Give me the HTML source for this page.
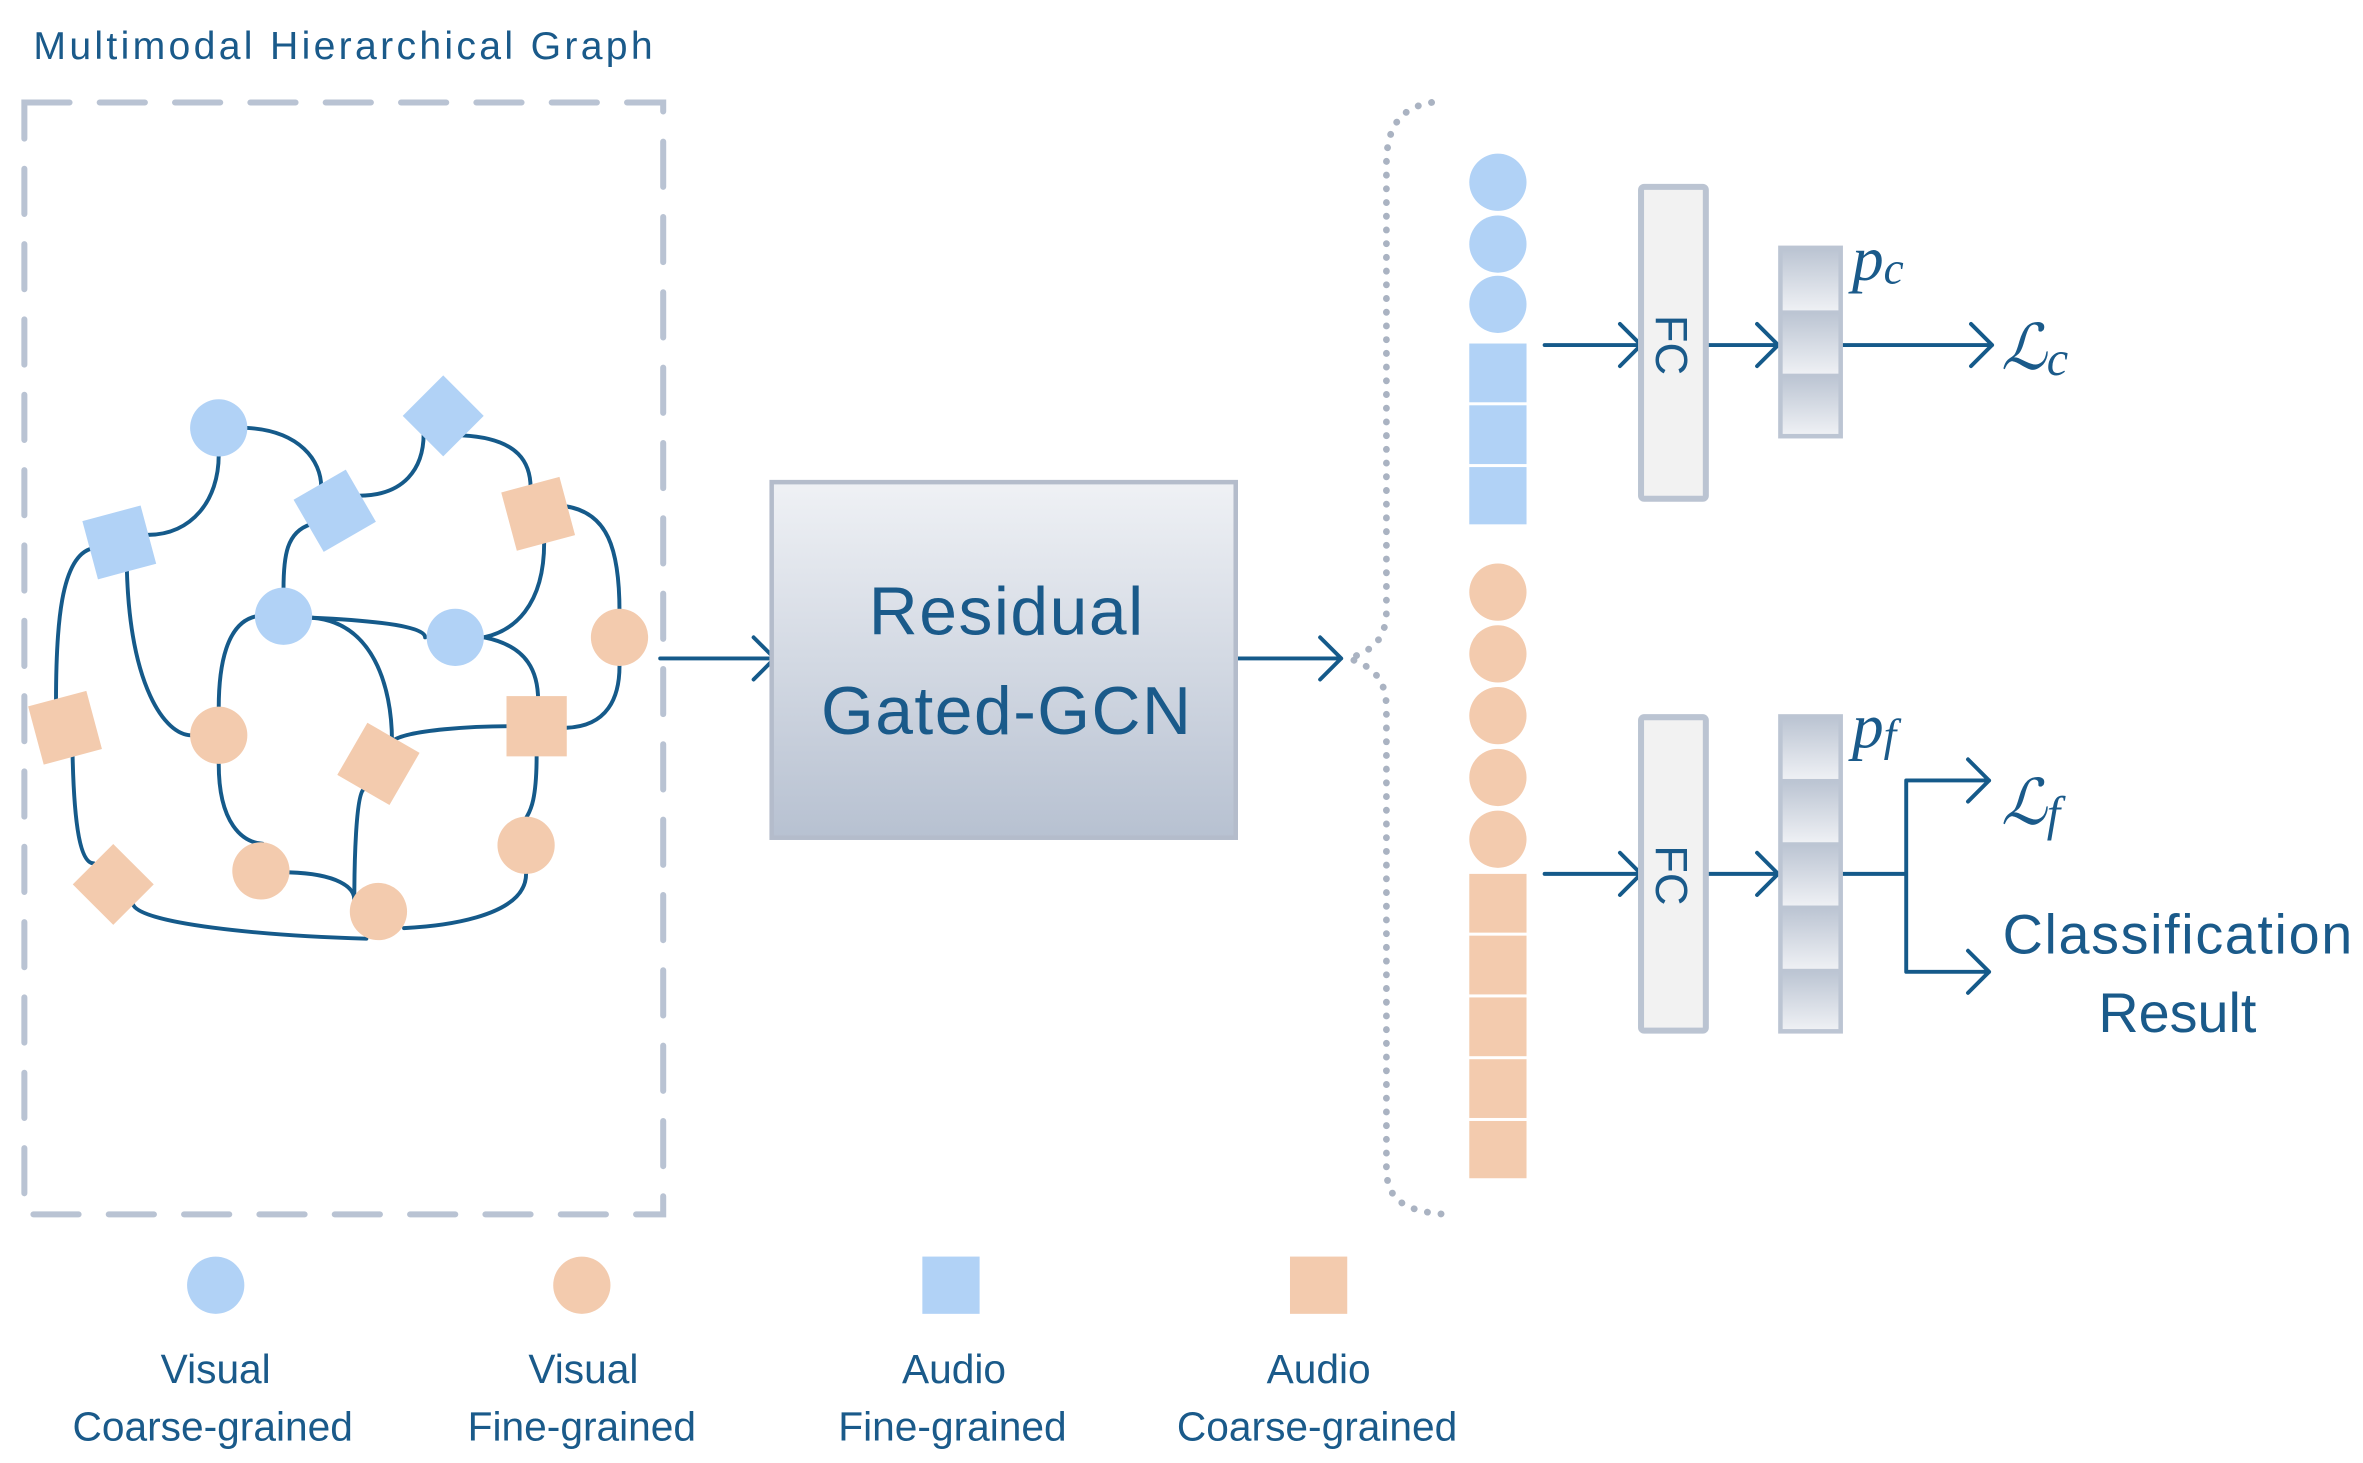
<!DOCTYPE html>
<html><head><meta charset="utf-8"><style>
html,body{margin:0;padding:0;background:#fff;}
svg{display:block;}
text{font-family:"Liberation Sans",sans-serif;fill:#1a5a8a;}
</style></head><body>
<svg width="2363" height="1463" viewBox="0 0 1568 971" xmlns="http://www.w3.org/2000/svg">
<defs>
<linearGradient id="gb" x1="0" y1="0" x2="0" y2="1"><stop offset="0" stop-color="#eff1f5"/><stop offset="1" stop-color="#b7c1d1"/></linearGradient>
<linearGradient id="seg" x1="0" y1="0" x2="0" y2="1"><stop offset="0" stop-color="#bcc5d3"/><stop offset="1" stop-color="#eef0f4"/></linearGradient>
</defs>
<text x="22" y="39" font-size="26" textLength="411" lengthAdjust="spacing">Multimodal Hierarchical Graph</text>
<rect x="16" y="68" width="424" height="738" fill="none" stroke="#b9c3d3" stroke-width="4" stroke-dasharray="30 20" stroke-linecap="round"/>
<g fill="none" stroke="#155a8a" stroke-width="2.6" stroke-linecap="round">
<path d="M145,302 C145,332 127,355 98,355"/>
<path d="M164,284 C199,286 213,306 213,323"/>
<path d="M238,329 C268,329 281,311 281,288"/>
<path d="M307,289 C345,291 352,308 352,324"/>
<path d="M375,336 C403,340 411,364 411,406"/>
<path d="M361,360 C361,403 340,419 321,423"/>
<path d="M206,348 C190,353 188,369 188,391"/>
<path d="M207,410 C273,413 282,419 282,423"/>
<path d="M321,423 C351,429 357,447 357,465"/>
<path d="M207,410 C247,413 260,455 260,492"/>
<path d="M260,492 C270,484 317,482 338,482"/>
<path d="M376,483 C403,482 411,463 411,442"/>
<path d="M356,501 C356,534 351,539 349,543"/>
<path d="M349,580 C349,610 288,615 268,616"/>
<path d="M88,600 C92,613 173,621 243,623"/>
<path d="M170,409 C150,413 145,442 145,470"/>
<path d="M145,507 C145,547 161,559 174,560"/>
<path d="M192,579 C224,580 235,589 235,597"/>
<path d="M241,524 C236,529 235,573 235,597"/>
<path d="M84,377 C86,455 109,488 127,488"/>
<path d="M61,364 C40,369 37,416 37,466"/>
<path d="M48,501 C49,547 53,573 62,573"/>
</g>
<g fill="#b1d2f6">
<circle cx="145" cy="284" r="19"/>
<circle cx="188" cy="409" r="19"/>
<circle cx="302" cy="423" r="19"/>
<rect x="59" y="340" width="40" height="40" transform="rotate(-15 79 360)"/>
<rect x="275" y="257" width="38" height="38" transform="rotate(45 294 276)"/>
<rect x="202" y="319" width="40" height="40" transform="rotate(-30 222 339)"/>
</g>
<g fill="#f3cbae">
<circle cx="411" cy="423" r="19"/>
<circle cx="145" cy="488" r="19"/>
<circle cx="349" cy="561" r="19"/>
<circle cx="173" cy="578" r="19"/>
<circle cx="251" cy="605" r="19"/>
<rect x="337" y="321" width="40" height="40" transform="rotate(-15 357 341)"/>
<rect x="23" y="463" width="40" height="40" transform="rotate(-15 43 483)"/>
<rect x="231" y="487" width="40" height="40" transform="rotate(30 251 507)"/>
<rect x="336" y="462" width="40" height="40"/>
<rect x="56" y="568" width="38" height="38" transform="rotate(45 75 587)"/>
</g>
<g fill="none" stroke="#155a8a" stroke-width="2.6" stroke-linecap="round" stroke-linejoin="round">
<path d="M438,437 H514 M500,423 L514,437 L500,451"/>
<path d="M818,437 H890 M876,423 L890,437 L876,451"/>
<path d="M1025,229 H1089 M1075,215 L1089,229 L1075,243"/>
<path d="M1133,229 H1180 M1166,215 L1180,229 L1166,243"/>
<path d="M1223,229 H1322 M1308,215 L1322,229 L1308,243"/>
<path d="M1025,580 H1089 M1075,566 L1089,580 L1075,594"/>
<path d="M1133,580 H1180 M1166,566 L1180,580 L1166,594"/>
<path d="M1223,580 H1265 M1265,518 V645 M1265,518 H1320 M1306,504 L1320,518 L1306,532 M1265,645 H1320 M1306,631 L1320,645 L1306,659"/>
</g>
<rect x="512" y="320" width="308" height="236" fill="url(#gb)" stroke="#b4bccb" stroke-width="3"/>
<text x="668" y="421" font-size="45" text-anchor="middle" letter-spacing="1">Residual</text>
<text x="668" y="487" font-size="45" text-anchor="middle" letter-spacing="1">Gated-GCN</text>
<path d="M950,68 C925,72 920,90 920,110 V405 C920,425 910,432 895,437 C910,442 920,450 920,470 V775 C920,795 930,804 960,806" fill="none" stroke="#aab3c2" stroke-width="4.5" stroke-dasharray="0.1 9" stroke-linecap="round"/>
<g fill="#b1d2f6">
<circle cx="994" cy="121" r="19"/><circle cx="994" cy="162" r="19"/><circle cx="994" cy="202" r="19"/>
<rect x="975" y="228" width="38" height="39"/><rect x="975" y="269" width="38" height="39"/><rect x="975" y="310" width="38" height="38"/>
</g>
<g fill="#f3cbae">
<circle cx="994" cy="393" r="19"/><circle cx="994" cy="434" r="19"/><circle cx="994" cy="475" r="19"/><circle cx="994" cy="516" r="19"/><circle cx="994" cy="557" r="19"/>
<rect x="975" y="580" width="38" height="39"/><rect x="975" y="621" width="38" height="39"/><rect x="975" y="662" width="38" height="39"/><rect x="975" y="703" width="38" height="39"/><rect x="975" y="744" width="38" height="38"/>
</g>
<rect x="1089" y="124" width="43" height="207" rx="2" fill="#f2f2f2" stroke="#bbc4d2" stroke-width="4"/>
<text transform="translate(1099,229) rotate(90)" font-size="30" text-anchor="middle">FC</text>
<rect x="1089" y="476" width="43" height="208" rx="2" fill="#f2f2f2" stroke="#bbc4d2" stroke-width="4"/>
<text transform="translate(1099,581) rotate(90)" font-size="30" text-anchor="middle">FC</text>
<rect x="1180" y="163" width="43" height="128" fill="#bcc5d3"/>
<rect x="1183" y="166" width="37" height="40" fill="url(#seg)"/>
<rect x="1183" y="208" width="37" height="40" fill="url(#seg)"/>
<rect x="1183" y="250" width="37" height="38" fill="url(#seg)"/>
<rect x="1180" y="474" width="43" height="212" fill="#bcc5d3"/>
<rect x="1183" y="477" width="37" height="40" fill="url(#seg)"/>
<rect x="1183" y="519" width="37" height="40" fill="url(#seg)"/>
<rect x="1183" y="561" width="37" height="40" fill="url(#seg)"/>
<rect x="1183" y="603" width="37" height="40" fill="url(#seg)"/>
<rect x="1183" y="645" width="37" height="38" fill="url(#seg)"/>
<g font-style="italic">
<text x="1229" y="186" font-size="42" style="font-family:'Liberation Serif',serif">p<tspan font-size="30" dy="2">c</tspan></text>
<text x="1229" y="496" font-size="42" style="font-family:'Liberation Serif',serif">p<tspan font-size="30" dy="2">f</tspan></text>
<text x="1328" y="245" font-size="42" style="font-family:'Liberation Serif',serif">ℒ<tspan font-size="32" dy="4">c</tspan></text>
<text x="1328" y="547" font-size="42" style="font-family:'Liberation Serif',serif">ℒ<tspan font-size="32" dy="4">f</tspan></text>
</g>
<text x="1445" y="633" font-size="37" text-anchor="middle" textLength="232" lengthAdjust="spacing">Classification</text>
<text x="1445" y="685" font-size="37" text-anchor="middle">Result</text>
<circle cx="143" cy="853" r="19" fill="#b1d2f6"/>
<circle cx="386" cy="853" r="19" fill="#f3cbae"/>
<rect x="612" y="834" width="38" height="38" fill="#b1d2f6"/>
<rect x="856" y="834" width="38" height="38" fill="#f3cbae"/>
<g font-size="27" text-anchor="middle">
<text x="143" y="918">Visual</text><text x="141" y="956">Coarse-grained</text>
<text x="387" y="918">Visual</text><text x="386" y="956">Fine-grained</text>
<text x="633" y="918">Audio</text><text x="632" y="956">Fine-grained</text>
<text x="875" y="918">Audio</text><text x="874" y="956">Coarse-grained</text>
</g>
</svg>
</body></html>
